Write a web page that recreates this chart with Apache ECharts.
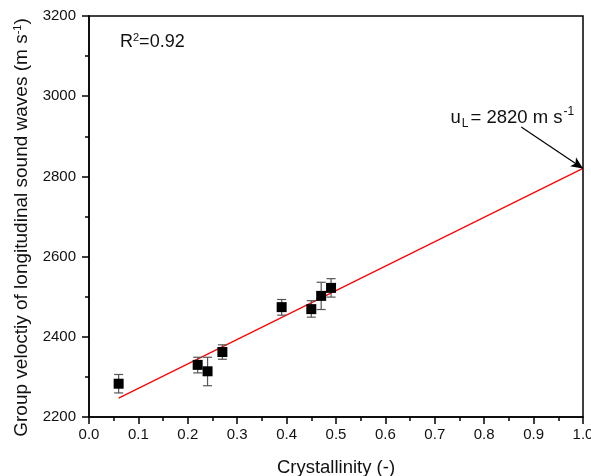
<!DOCTYPE html>
<html><head><meta charset="utf-8">
<script src="https://cdn.jsdelivr.net/npm/echarts@6/dist/echarts.min.js"></script>
<style>html,body{margin:0;padding:0;background:#fff}#c{width:591px;height:476px}</style>
</head><body><div id="c"></div>
<script>
var crystallinity = [0.06, 0.22, 0.24, 0.27, 0.39, 0.45, 0.47, 0.49];
var velocity = [2283, 2330, 2314, 2362, 2474, 2469, 2502, 2522];
var errLow = [2260, 2310, 2278, 2344, 2454, 2449, 2468, 2499];
var errHigh = [2306, 2349, 2349, 2380, 2493, 2490, 2536, 2545];
var fitX = [0.06, 1.0];
var fitY = [2247, 2820];
var arrowStart = [0.875, 2923];
var arrowEnd = [1.0, 2820];
var annotationAt = [0.857, 2946];

var F = 'Liberation Sans, Arial, sans-serif';
var chart = echarts.init(document.getElementById('c'));
var pts = crystallinity.map(function(x,i){return [x, velocity[i]];});
var errs = crystallinity.map(function(x,i){return [x, errLow[i], errHigh[i]];});
var fit = fitX.map(function(x,i){return [x, fitY[i]];});

chart.setOption({
  animation:false,
  grid:{left:89,right:8,top:16,bottom:59,show:true,borderColor:'#000',borderWidth:1.5,outerBoundsMode:'none',containLabel:false},
  xAxis:{type:'value',min:0,max:1,interval:0.1,
    name:'Crystallinity (-)',nameLocation:'middle',nameGap:41,
    nameTextStyle:{fontFamily:F,fontSize:18.5,color:'#111'},
    axisLine:{lineStyle:{color:'#000',width:1.5}},
    axisTick:{show:true,inside:false,length:7,lineStyle:{color:'#000',width:1.5}},
    minorTick:{show:true,splitNumber:2,length:4,lineStyle:{color:'#000',width:1.5}},
    axisLabel:{fontFamily:F,fontSize:15,color:'#111',margin:10,formatter:function(v){return v.toFixed(1);}},
    splitLine:{show:false}},
  yAxis:{type:'value',min:2200,max:3200,interval:200,
    name:'{n|Group veloctiy of longitudinal sound waves (m s}{s|-1}{n|)}',
    nameLocation:'middle',nameGap:56,nameRotate:90,
    nameTextStyle:{fontFamily:F,fontSize:19,color:'#111',padding:[0,22,0,0],rich:{
      n:{fontFamily:F,fontSize:19,color:'#111'},
      s:{fontFamily:F,fontSize:11,color:'#111',verticalAlign:'top',padding:[0,0,9,0]}}},
    axisLine:{lineStyle:{color:'#000',width:1.5}},
    axisTick:{show:true,inside:false,length:7,lineStyle:{color:'#000',width:1.5}},
    minorTick:{show:true,splitNumber:2,length:4,lineStyle:{color:'#000',width:1.5}},
    axisLabel:{fontFamily:F,fontSize:15,color:'#111',margin:13,formatter:function(v){return String(v);}},
    splitLine:{show:false}},
  graphic:[{type:'text',left:120,top:32,style:{
    text:'{n|R}{s|2}{n|=0.92}',fontFamily:F,
    rich:{n:{fontFamily:F,fontSize:18,fill:'#111'},s:{fontFamily:F,fontSize:11,fill:'#111',verticalAlign:'top',padding:[0,0,9,0]}}}}],
  series:[
    {type:'line',data:fit,symbol:'none',lineStyle:{color:'#ff0000',width:1.2},z:2,
     markLine:{silent:true,symbol:['none','arrow'],symbolSize:[8,12],
       lineStyle:{color:'#000',width:1.2,type:'solid'},
       label:{show:false},
       data:[[{coord:arrowStart},{coord:arrowEnd}]]},
     markPoint:{silent:true,symbol:'circle',symbolSize:0,
       label:{show:true,position:'inside',
         formatter:'{n|u}{sub|L}{n|= 2820 m s}{sup|-1}',
         rich:{n:{fontFamily:F,fontSize:18.5,color:'#111'},
           sub:{fontFamily:F,fontSize:12,color:'#111',verticalAlign:'bottom',padding:[12,2,0,1]},
           sup:{fontFamily:F,fontSize:12,color:'#111',verticalAlign:'top',padding:[0,0,9,1]}}},
       data:[{coord:annotationAt}]}},
    {type:'custom',data:errs,z:3,
     renderItem:function(params,api){
       var x=api.value(0),lo=api.value(1),hi=api.value(2);
       var pl=api.coord([x,lo]),ph=api.coord([x,hi]);
       var hw=4.5;
       var st={stroke:'#555',lineWidth:1.2};
       return {type:'group',children:[
         {type:'line',shape:{x1:pl[0],y1:pl[1],x2:ph[0],y2:ph[1]},style:st},
         {type:'line',shape:{x1:pl[0]-hw,y1:pl[1],x2:pl[0]+hw,y2:pl[1]},style:st},
         {type:'line',shape:{x1:ph[0]-hw,y1:ph[1],x2:ph[0]+hw,y2:ph[1]},style:st}]};
     }},
    {type:'scatter',data:pts,symbol:'rect',symbolSize:10,itemStyle:{color:'#000',opacity:1},z:4}
  ]
});
</script></body></html>
